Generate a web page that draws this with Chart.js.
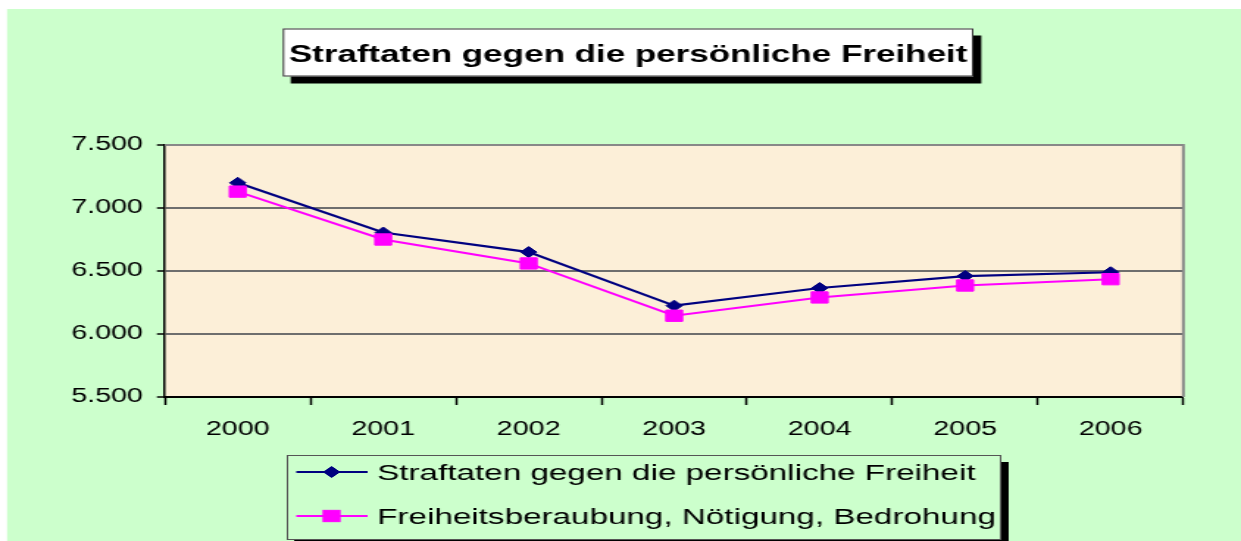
<!DOCTYPE html>
<html>
<head>
<meta charset="utf-8">
<script src="https://cdn.jsdelivr.net/npm/chart.js@4/dist/chart.umd.min.js"></script>
<style>
  html, body { margin: 0; padding: 0; background: #ffffff; overflow: hidden; }
  #wrap { width: 844px; height: 541px; transform: scaleX(1.470379); transform-origin: 0 0; }
  #c { display: block; }
</style>
</head>
<body>
<div id="wrap"><canvas id="c" width="844" height="541" style="width:844px;height:541px"></canvas></div>
<script>
// ---- data ----
const chartTitle = 'Straftaten gegen die persönliche Freiheit';
const categories = ['2000', '2001', '2002', '2003', '2004', '2005', '2006'];
const seriesNames = ['Straftaten gegen die persönliche Freiheit', 'Freiheitsberaubung, Nötigung, Bedrohung'];
const straftatenTotal = [7200, 6805, 6650, 6225, 6365, 6460, 6490];
const freiheitsberaubung = [7130, 6750, 6560, 6145, 6290, 6385, 6435];
const yMin = 5500, yMax = 7500, yStep = 500;

// ---- styles ----
const NAVY = '#000080', MAGENTA = '#FF00FF';
const GREEN = '#CCFFCC', PLOT_BG = '#FCEFD8';
const FONT = '"Liberation Sans", Arial, sans-serif';

function fmtDE(v) {
  return String(Math.round(v)).replace(/\B(?=(\d{3})+(?!\d))/g, '.');
}

function drawDiamond(ctx, x, y, r, color) {
  ctx.beginPath();
  ctx.moveTo(x, y - r); ctx.lineTo(x + r, y); ctx.lineTo(x, y + r); ctx.lineTo(x - r, y);
  ctx.closePath();
  ctx.fillStyle = color; ctx.fill();
  ctx.lineWidth = 1; ctx.strokeStyle = color; ctx.stroke();
}
function drawSquare(ctx, x, y, r, color) {
  const s = r * Math.SQRT1_2;
  ctx.fillStyle = color;
  ctx.fillRect(x - s, y - s, 2 * s, 2 * s);
  ctx.lineWidth = 1; ctx.strokeStyle = color;
  ctx.strokeRect(x - s, y - s, 2 * s, 2 * s);
}

const decor = {
  id: 'decor',
  beforeDraw(chart) {
    const ctx = chart.ctx, a = chart.chartArea;
    ctx.save();
    ctx.fillStyle = '#ffffff';
    ctx.fillRect(0, 0, chart.width, chart.height);
    ctx.fillStyle = GREEN;
    ctx.fillRect(4.8, 9, chart.width, chart.height);
    ctx.fillStyle = PLOT_BG;
    ctx.fillRect(a.left, a.top, a.right - a.left, a.bottom - a.top);
    ctx.restore();
  },
  afterDatasetsDraw(chart) {
    const ctx = chart.ctx, a = chart.chartArea;
    ctx.save();
    ctx.strokeStyle = '#888888';
    ctx.lineWidth = 2;
    ctx.beginPath();
    ctx.moveTo(a.left, a.top); ctx.lineTo(a.right, a.top); ctx.lineTo(a.right, a.bottom);
    ctx.stroke();
    ctx.restore();
  },
  afterDraw(chart) {
    const ctx = chart.ctx;
    ctx.save();
    // Title box with shadow
    const tb = { l: 192.3, t: 28.5, r: 662, b: 76.5 };
    ctx.fillStyle = '#000000';
    ctx.fillRect(tb.l + 5.4, tb.t + 7, tb.r - tb.l, tb.b - tb.t);
    ctx.fillStyle = '#ffffff';
    ctx.fillRect(tb.l, tb.t, tb.r - tb.l, tb.b - tb.t);
    ctx.strokeStyle = '#333333'; ctx.lineWidth = 1;
    ctx.strokeRect(tb.l + 0.5, tb.t + 0.5, tb.r - tb.l - 1, tb.b - tb.t - 1);
    ctx.fillStyle = '#000000';
    ctx.font = 'bold 23.8px ' + FONT;
    ctx.textAlign = 'center'; ctx.textBaseline = 'alphabetic';
    ctx.fillText(chartTitle, (tb.l + tb.r) / 2, 61.5);

    // Legend box with shadow
    const lb = { l: 195, t: 455, r: 681, b: 540 };
    ctx.fillStyle = '#000000';
    ctx.fillRect(lb.l + 5, lb.t + 7, lb.r - lb.l, lb.b - lb.t);
    ctx.fillStyle = GREEN;
    ctx.fillRect(lb.l, lb.t, lb.r - lb.l, lb.b - lb.t);
    ctx.strokeStyle = '#555555'; ctx.lineWidth = 1;
    ctx.strokeRect(lb.l + 0.5, lb.t + 0.5, lb.r - lb.l - 1, lb.b - lb.t - 1);

    const rows = [
      { y: 472, color: NAVY, marker: 'diamond', text: seriesNames[0] },
      { y: 516, color: MAGENTA, marker: 'square', text: seriesNames[1] }
    ];
    ctx.font = '22.6px ' + FONT;
    ctx.textAlign = 'left'; ctx.textBaseline = 'alphabetic';
    rows.forEach(row => {
      ctx.strokeStyle = row.color; ctx.lineWidth = 2;
      ctx.beginPath(); ctx.moveTo(201.5, row.y); ctx.lineTo(250, row.y); ctx.stroke();
      if (row.marker === 'diamond') drawDiamond(ctx, 225.5, row.y, 5.5, row.color);
      else drawSquare(ctx, 225.5, row.y, 8, row.color);
      ctx.fillStyle = '#000000';
      ctx.fillText(row.text, 256.5, row.y + 8);
    });
    ctx.restore();
  }
};

new Chart(document.getElementById('c'), {
  type: 'line',
  data: {
    labels: categories,
    datasets: [
      {
        label: seriesNames[0],
        data: straftatenTotal,
        borderColor: NAVY, backgroundColor: NAVY,
        borderWidth: 2.2,
        pointStyle: 'rectRot', pointRadius: 5.5, pointBorderWidth: 1,
        pointBackgroundColor: NAVY, pointBorderColor: NAVY,
        tension: 0, order: 1
      },
      {
        label: seriesNames[1],
        data: freiheitsberaubung,
        borderColor: MAGENTA, backgroundColor: MAGENTA,
        borderWidth: 2,
        pointStyle: 'rect', pointRadius: 8, pointBorderWidth: 1,
        pointBackgroundColor: MAGENTA, pointBorderColor: MAGENTA,
        tension: 0, order: 0
      }
    ]
  },
  options: {
    responsive: false,
    devicePixelRatio: 1,
    animation: false,
    events: [],
    layout: { padding: { left: 0, right: 39.2, top: 145, bottom: 0 } },
    plugins: { legend: { display: false }, title: { display: false }, tooltip: { enabled: false } },
    scales: {
      x: {
        type: 'category',
        offset: true,
        afterFit(scale) { scale.height = 144; },
        grid: { offset: true, drawOnChartArea: false, drawTicks: true, tickLength: 8, tickColor: '#000000', tickWidth: 1.5 },
        border: { display: true, color: '#000000', width: 2 },
        ticks: { color: '#000000', padding: 13, maxRotation: 0, autoSkip: false, font: { family: FONT, size: 19.5 } }
      },
      y: {
        min: yMin, max: yMax,
        afterFit(scale) { scale.width = 112.2; },
        grid: { color: '#6e6e6e', lineWidth: 2, drawTicks: true, tickLength: 5.5, tickColor: '#000000', tickWidth: 1.5 },
        border: { display: true, color: '#000000', width: 1.5 },
        ticks: {
          stepSize: yStep, color: '#000000', padding: 9.5,
          font: { family: FONT, size: 19.5 },
          callback: v => fmtDE(v)
        }
      }
    }
  },
  plugins: [decor]
});
</script>
</body>
</html>
